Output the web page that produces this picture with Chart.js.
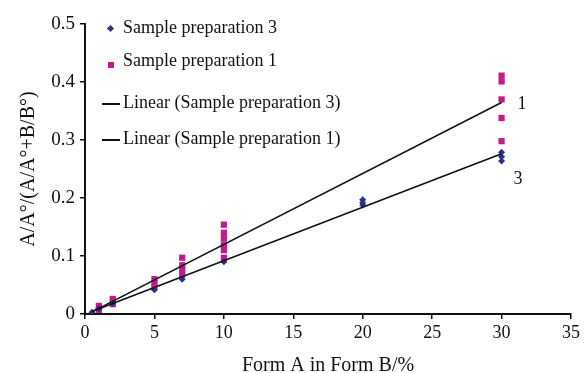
<!DOCTYPE html>
<html>
<head>
<meta charset="utf-8">
<script src="https://cdn.jsdelivr.net/npm/chart.js@4.4.1/dist/chart.umd.min.js"></script>
<style>
  body { margin: 0; background: #fff; }
  #wrap { position: relative; width: 587px; height: 373px; }
  #legend { position: absolute; left: 100px; top: 16px; font-family: "Liberation Serif", "Times New Roman", serif; font-size: 18px; color: #111; }
  #legend div { position: absolute; white-space: nowrap; }
  .mk { position: absolute; }
</style>
</head>
<body>
<div id="wrap">
  <canvas id="chart" width="587" height="373"></canvas>
  <div id="legend">
    <div style="left:0;top:1px"><span class="mk" style="left:8px;top:9px;width:5px;height:5px;background:#2b2f8f;transform:rotate(45deg)"></span><span style="margin-left:23px">Sample preparation 3</span></div>
    <div style="left:0;top:34px"><span class="mk" style="left:8px;top:12px;width:6px;height:6px;background:#c21a8c"></span><span style="margin-left:23px">Sample preparation 1</span></div>
    <div style="left:0;top:76px"><span class="mk" style="left:2px;top:11px;width:18px;height:2px;background:#111"></span><span style="margin-left:23px">Linear (Sample preparation 3)</span></div>
    <div style="left:0;top:112px"><span class="mk" style="left:2px;top:11px;width:18px;height:2px;background:#111"></span><span style="margin-left:23px">Linear (Sample preparation 1)</span></div>
  </div>
</div>
<script>
// Form A content (%) and measured ratio A/A°/(A/A°+B/B°)
const prep3X = [0.5, 1, 2, 5, 7, 10, 20, 20, 20, 30, 30, 30];
const prep3Y = [0.003, 0.009, 0.018, 0.042, 0.060, 0.090, 0.188, 0.192, 0.197, 0.264, 0.271, 0.279];

const prep1X = [1, 1, 2, 2, 5, 5, 5, 7, 7, 7, 7, 10, 10, 10, 10, 10, 10, 30, 30, 30, 30, 30];
const prep1Y = [0.007, 0.014, 0.017, 0.026, 0.046, 0.053, 0.060, 0.068, 0.076, 0.084, 0.097,
  0.097, 0.110, 0.119, 0.130, 0.140, 0.154, 0.298, 0.338, 0.370, 0.401, 0.411];

const xTicks = [0, 5, 10, 15, 20, 25, 30, 35];
const yTicks = [0, 0.1, 0.2, 0.3, 0.4, 0.5];

const serif = '"Liberation Serif", "Times New Roman", serif';

const toPoints = (xs, ys) => xs.map((x, i) => ({ x, y: ys[i] }));

// least squares fit, like the spreadsheet "Linear" trendline
const linearFit = (xs, ys) => {
  const n = xs.length;
  const mx = xs.reduce((a, b) => a + b, 0) / n;
  const my = ys.reduce((a, b) => a + b, 0) / n;
  let sxy = 0, sxx = 0;
  xs.forEach((x, i) => { sxy += (x - mx) * (ys[i] - my); sxx += (x - mx) * (x - mx); });
  const slope = sxy / sxx;
  return { slope, intercept: my - slope * mx };
};

const fit3 = linearFit(prep3X, prep3Y);
const fit1 = linearFit(prep1X, prep1Y);
const xMin = Math.min(...prep3X, ...prep1X);
const xMax = Math.max(...prep3X, ...prep1X);
const trend = f => [xMin, xMax].map(x => ({ x, y: f.intercept + f.slope * x }));

// small "1" and "3" labels at the end of the trend lines
const endLabels = {
  id: "endLabels",
  afterDatasetsDraw(c) {
    const xs = c.scales.x, ys = c.scales.y;
    const ctx = c.ctx;
    ctx.save();
    ctx.font = "18px " + serif;
    ctx.fillStyle = "#111";
    ctx.textBaseline = "middle";
    const px = xs.getPixelForValue(xMax);
    ctx.fillText("1", px + 16, ys.getPixelForValue(fit1.intercept + fit1.slope * xMax) + 2);
    ctx.fillText("3", px + 12, ys.getPixelForValue(fit3.intercept + fit3.slope * xMax) + 25);
    ctx.restore();
  }
};

new Chart(document.getElementById("chart"), {
  type: "scatter",
  data: {
    datasets: [
      {
        label: "Linear (Sample preparation 3)",
        type: "line",
        data: trend(fit3),
        borderColor: "#111",
        borderWidth: 1.6,
        pointRadius: 0,
        fill: false
      },
      {
        label: "Linear (Sample preparation 1)",
        type: "line",
        data: trend(fit1),
        borderColor: "#111",
        borderWidth: 1.6,
        pointRadius: 0,
        fill: false
      },
      {
        label: "Sample preparation 3",
        data: toPoints(prep3X, prep3Y),
        pointStyle: "rectRot",
        pointRadius: 3.5,
        backgroundColor: "#2b2f8f",
        borderColor: "#2b2f8f",
        borderWidth: 0
      },
      {
        label: "Sample preparation 1",
        data: toPoints(prep1X, prep1Y),
        pointStyle: "rect",
        pointRadius: 4.4,
        backgroundColor: "#c21a8c",
        borderColor: "#c21a8c",
        borderWidth: 0
      }
    ]
  },
  options: {
    responsive: false,
    animation: false,
    layout: { padding: { top: 24, right: 16, left: 0, bottom: 0 } },
    plugins: { legend: { display: false }, tooltip: { enabled: false } },
    scales: {
      x: {
        type: "linear",
        min: 0,
        max: 35,
        afterBuildTicks: s => { s.ticks = xTicks.map(v => ({ value: v })); },
        afterFit: s => { s.height = 59; },
        border: { color: "#111", width: 2 },
        grid: { drawOnChartArea: false, color: "#111", tickLength: 5, lineWidth: 1.5 },
        ticks: { color: "#111", font: { family: serif, size: 18 }, padding: 3, maxRotation: 0 },
        title: { display: true, text: "Form A in Form B/%", color: "#111", font: { family: serif, size: 20 }, padding: { top: 0, bottom: -5 } }
      },
      y: {
        min: 0,
        max: 0.5,
        afterBuildTicks: s => { s.ticks = yTicks.map(v => ({ value: v })); },
        afterFit: s => { s.width = 85; },
        border: { color: "#111", width: 2 },
        grid: { drawOnChartArea: false, color: "#111", tickLength: 5, lineWidth: 1.5 },
        ticks: { color: "#111", font: { family: serif, size: 19 }, padding: 5, callback: v => String(v) },
        title: { display: true, text: "A/A°/(A/A°+B/B°)", color: "#111", font: { family: serif, size: 20 }, padding: { top: 17, bottom: 0 } }
      }
    }
  },
  plugins: [endLabels]
});
</script>
</body>
</html>
